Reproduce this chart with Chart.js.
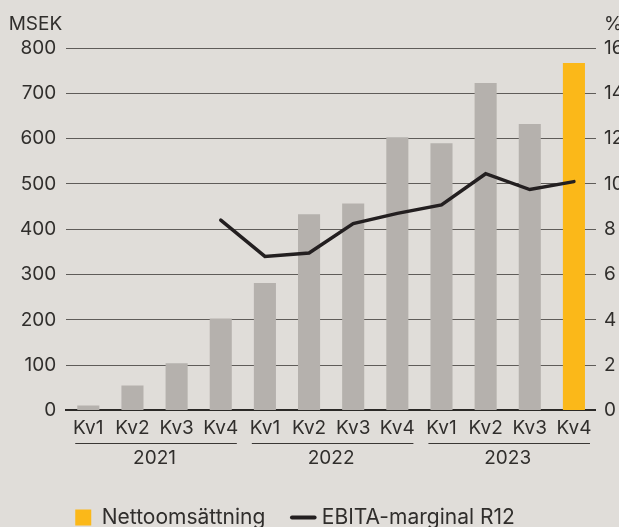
<!DOCTYPE html>
<html>
<head>
<meta charset="utf-8">
<script src="https://cdn.jsdelivr.net/npm/chart.js@4/dist/chart.umd.min.js"></script>
<style>
  html, body { margin: 0; padding: 0; overflow: hidden; background: #e0ddd9; }
  #wrap { position: relative; width: 632px; height: 538px; }
</style>
</head>
<body>
<div id="wrap"><canvas id="chart"></canvas></div>
<script>
const quarters = ['Kv1', 'Kv2', 'Kv3', 'Kv4', 'Kv1', 'Kv2', 'Kv3', 'Kv4', 'Kv1', 'Kv2', 'Kv3', 'Kv4'];
const years = ['2021', '2022', '2023'];
const netSales = [11, 55, 104, 203, 281, 433, 457, 603, 590, 723, 632, 767];
const ebitaMargin = [null, null, null, 8.4, 6.8, 6.95, 8.25, 8.7, 9.07, 10.45, 9.75, 10.1];

const grey = '#b5b1ad';
const yellow = '#fbb819';
const ink = '#231f20';
const textColor = '#302e2c';

Chart.defaults.font.family = 'Inter, "Noto Sans", sans-serif';
Chart.defaults.font.size = 19;
Chart.defaults.color = textColor;

// lines under the quarter labels, one per year
const yearLines = {
  id: 'yearLines',
  afterDraw (chart) {
    const {ctx, scales: {x}} = chart;
    const step = x.getPixelForValue(1) - x.getPixelForValue(0);
    const y = Math.round(x.bottom - 2) + 0.5;
    ctx.save();
    ctx.strokeStyle = '#3a3735';
    ctx.lineWidth = 1;
    years.forEach((yr, i) => {
      const x0 = x.getPixelForValue(i * 4) - step / 2 + 9;
      const x1 = x.getPixelForValue(i * 4 + 3) + step / 2 - 6;
      ctx.beginPath();
      ctx.moveTo(x0, y);
      ctx.lineTo(x1, y);
      ctx.stroke();
    });
    ctx.restore();
  }
};

// unit labels above the axes
const unitLabels = {
  id: 'unitLabels',
  afterDraw (chart) {
    const {ctx, chartArea} = chart;
    ctx.save();
    ctx.fillStyle = textColor;
    ctx.font = '19px ' + Chart.defaults.font.family;
    ctx.textBaseline = 'middle';
    ctx.textAlign = 'right';
    ctx.fillText('MSEK', chartArea.left - 4, chartArea.top - 24);
    ctx.textAlign = 'left';
    ctx.fillText('%', chartArea.right + 8, chartArea.top - 24);
    ctx.restore();
  }
};

// move the legend so it starts under the plot
const legendShift = {
  id: 'legendShift',
  afterLayout (chart) {
    const lg = chart.legend;
    const w = lg.right - lg.left;
    lg.left = chart.chartArea.left + 9 - lg.options.labels.padding;
    lg.right = lg.left + w;
  }
};

new Chart(document.getElementById('chart'), {
  type: 'bar',
  data: {
    labels: quarters,
    datasets: [
      {
        label: 'Nettoomsättning',
        data: netSales,
        backgroundColor: netSales.map((v, i) => i === netSales.length - 1 ? yellow : grey),
        barPercentage: 0.5,
        categoryPercentage: 1,
        yAxisID: 'y',
        order: 2
      },
      {
        type: 'line',
        label: 'EBITA-marginal R12',
        data: ebitaMargin,
        borderColor: ink,
        borderWidth: 3.5,
        borderCapStyle: 'round',
        pointRadius: 0,
        tension: 0,
        yAxisID: 'y1',
        order: 1
      }
    ]
  },
  options: {
    responsive: true,
    maintainAspectRatio: false,
    animation: false,
    layout: { padding: { top: 48, left: 10, right: 0, bottom: 0 } },
    plugins: {
      tooltip: { enabled: false },
      legend: {
        position: 'bottom',
        align: 'start',
        labels: {
          usePointStyle: true,
          boxWidth: 16,
          boxHeight: 16,
          padding: 30,
          font: { size: 21 },
          color: textColor,
          generateLabels (chart) {
            return chart.data.datasets.map((ds, i) => ({
              text: ds.label,
              datasetIndex: i,
              fillStyle: i === 0 ? yellow : ink,
              strokeStyle: i === 0 ? yellow : ink,
              lineWidth: i === 0 ? 0 : 4,
              lineCap: 'round',
              pointStyle: i === 0 ? 'rect' : 'line',
              fontColor: textColor
            }));
          }
        }
      }
    },
    scales: {
      x: {
        grid: { display: false, drawTicks: false },
        border: { display: true, color: '#2b2927', width: 2 },
        ticks: { padding: 6, color: textColor }
      },
      x2: {
        type: 'category',
        labels: years,
        position: 'bottom',
        offset: true,
        grid: { display: false, drawTicks: false },
        border: { display: false },
        ticks: { padding: 2, color: textColor },
        afterFit (s) { s.height += 5; }
      },
      y: {
        position: 'left',
        min: 0,
        max: 800,
        ticks: { stepSize: 100, padding: 10, color: textColor },
        grid: { color: '#5f5c59', lineWidth: 1, drawTicks: false },
        border: { display: false }
      },
      y1: {
        position: 'right',
        min: 0,
        max: 16,
        ticks: { stepSize: 2, padding: 8, color: textColor },
        grid: { display: false, drawTicks: false },
        border: { display: false }
      }
    }
  },
  plugins: [yearLines, unitLabels, legendShift]
});
</script>
</body>
</html>
